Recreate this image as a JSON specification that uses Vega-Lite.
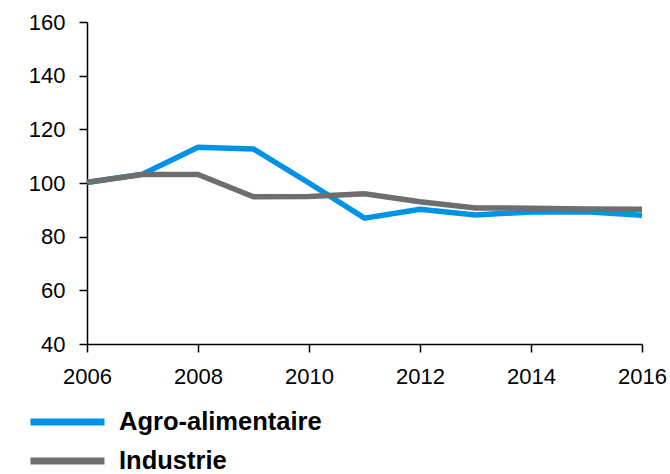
{
  "$schema": "https://vega.github.io/schema/vega-lite/v6.json",
  "width": 555,
  "height": 322,
  "autosize": {"type": "none"},
  "padding": {"left": 87, "top": 22, "right": 28, "bottom": 130},
  "background": "white",
  "config": {
    "view": {"stroke": null},
    "font": "Liberation Sans"
  },
  "data": {
    "values": [
      {"year": 2006, "series": "Agro-alimentaire", "value": 100.2},
      {"year": 2007, "series": "Agro-alimentaire", "value": 103.3},
      {"year": 2008, "series": "Agro-alimentaire", "value": 113.3},
      {"year": 2009, "series": "Agro-alimentaire", "value": 112.7},
      {"year": 2010, "series": "Agro-alimentaire", "value": 100.0},
      {"year": 2011, "series": "Agro-alimentaire", "value": 86.9},
      {"year": 2012, "series": "Agro-alimentaire", "value": 90.2},
      {"year": 2013, "series": "Agro-alimentaire", "value": 88.1},
      {"year": 2014, "series": "Agro-alimentaire", "value": 89.2},
      {"year": 2015, "series": "Agro-alimentaire", "value": 89.3},
      {"year": 2016, "series": "Agro-alimentaire", "value": 88.0},
      {"year": 2006, "series": "Industrie", "value": 100.3},
      {"year": 2007, "series": "Industrie", "value": 103.2},
      {"year": 2008, "series": "Industrie", "value": 103.2},
      {"year": 2009, "series": "Industrie", "value": 94.9},
      {"year": 2010, "series": "Industrie", "value": 95.0},
      {"year": 2011, "series": "Industrie", "value": 96.0},
      {"year": 2012, "series": "Industrie", "value": 93.0},
      {"year": 2013, "series": "Industrie", "value": 90.7},
      {"year": 2014, "series": "Industrie", "value": 90.6},
      {"year": 2015, "series": "Industrie", "value": 90.3},
      {"year": 2016, "series": "Industrie", "value": 90.2}
    ]
  },
  "mark": {"type": "line", "strokeWidth": 5.5, "strokeJoin": "miter"},
  "encoding": {
    "x": {
      "field": "year",
      "type": "quantitative",
      "scale": {"domain": [2006, 2016], "nice": false, "zero": false},
      "axis": {
        "title": null,
        "values": [2006, 2008, 2010, 2012, 2014, 2016],
        "format": "d",
        "grid": false,
        "domainColor": "black",
        "domainWidth": 1.5,
        "tickColor": "black",
        "tickWidth": 1.5,
        "tickSize": 8,
        "labelFont": "Liberation Sans",
        "labelFontSize": 22,
        "labelColor": "black",
        "labelPadding": 14,
        "labelFlush": false,
        "labelOverlap": false
      }
    },
    "y": {
      "field": "value",
      "type": "quantitative",
      "scale": {"domain": [40, 160], "nice": false, "zero": false},
      "axis": {
        "title": null,
        "values": [40, 60, 80, 100, 120, 140, 160],
        "grid": false,
        "domainColor": "black",
        "domainWidth": 1.5,
        "tickColor": "black",
        "tickWidth": 1.5,
        "tickSize": 8,
        "labelFont": "Liberation Sans",
        "labelFontSize": 22,
        "labelColor": "black",
        "labelPadding": 14
      }
    },
    "color": {
      "field": "series",
      "type": "nominal",
      "scale": {"domain": ["Agro-alimentaire", "Industrie"], "range": ["#0092e6", "#6e6e6e"]},
      "legend": {
        "title": null,
        "orient": "none",
        "legendX": -60,
        "legendY": 390,
        "direction": "vertical",
        "symbolType": "stroke",
        "symbolSize": 5476,
        "symbolStrokeWidth": 7,
        "clipHeight": 20,
        "rowPadding": 13,
        "labelOffset": 11,
        "labelLimit": 0,
        "labelFont": "Liberation Sans",
        "labelFontSize": 25.5,
        "labelFontWeight": "bold",
        "labelColor": "black"
      }
    }
  }
}
